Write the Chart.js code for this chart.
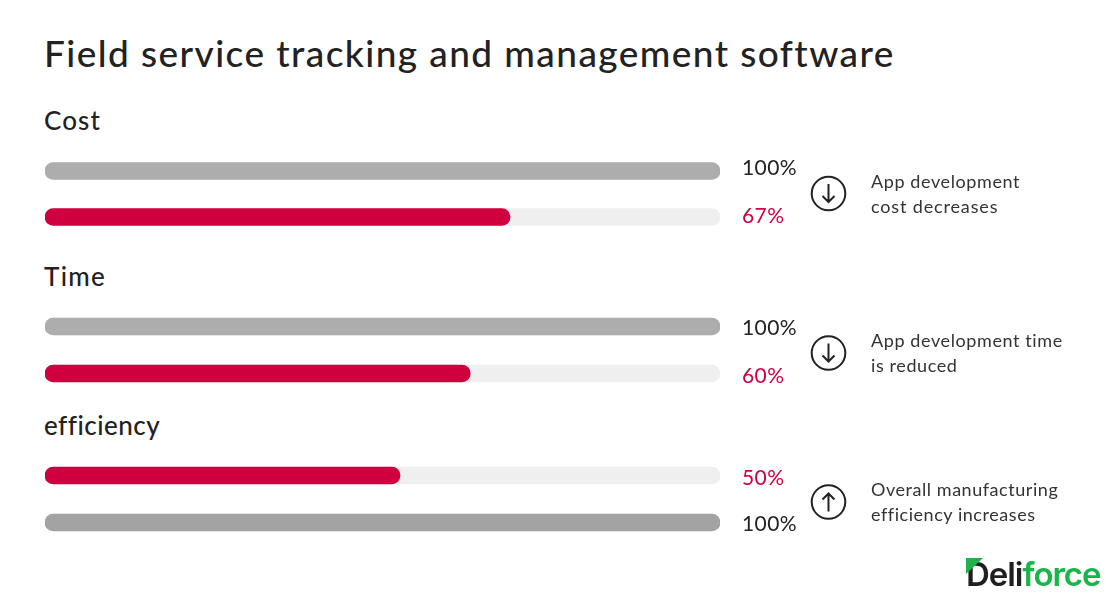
<!DOCTYPE html>
<html><head><meta charset="utf-8">
<style>
html,body{margin:0;padding:0;background:#fff;width:1118px;height:606px;overflow:hidden;font-family:Lato,sans-serif;color:#222}
.t{position:absolute;white-space:nowrap}
canvas{display:block}
.c{position:absolute;left:0;width:820px}
.h{font-size:26px;letter-spacing:1.1px;line-height:30px;left:44px;font-weight:500}
.n{font-size:18px;line-height:25px;left:871px;letter-spacing:.6px;color:#333}
</style>
<script src="https://cdn.jsdelivr.net/npm/chart.js@4"></script>
</head><body>
<div class="t" id="title" style="left:44px;top:30px;font-size:37px;line-height:46px;letter-spacing:1.43px;font-weight:500">Field service tracking and management software</div>
<div class="t h" style="top:105px">Cost</div>
<div class="t h" style="top:261px;letter-spacing:1.3px">Time</div>
<div class="t h" style="top:410px;letter-spacing:.5px">efficiency</div>

<div class="c" style="top:147.5px;height:92px"><canvas id="cost"></canvas></div>
<div class="c" style="top:303px;height:94px"><canvas id="time"></canvas></div>
<div class="c" style="top:452px;height:94px"><canvas id="eff"></canvas></div>

<svg style="position:absolute;left:0;top:0" width="1118" height="606" fill="none" stroke="#222" stroke-width="2">
  <g id="d1"><circle cx="828.5" cy="193.5" r="16.8"/><path d="M828.5 184v18M822.5 196l6 6 6-6"/></g>
  <g id="d2"><circle cx="828.5" cy="353" r="16.8"/><path d="M828.5 343.5v18M822.5 355.500l6 6 6-6"/></g>
  <g id="u1"><circle cx="828.5" cy="502" r="16.8"/><path d="M828.5 511.500v-18M822.500 499.500l6-6 6 6"/></g>
</svg>

<div class="t n" style="top:169px">App development<br><span style="letter-spacing:.85px">cost decreases</span></div>
<div class="t n" style="top:328px">App development time<br>is reduced</div>
<div class="t n" style="top:477px;letter-spacing:.55px">Overall manufacturing<br>efficiency increases</div>
<div class="t" style="left:966px;top:552px;font:600 33px/44px Inter,sans-serif;letter-spacing:-1.05px;color:#1f1f1f">Deli<span style="color:#18b548">force</span></div>
<svg style="position:absolute;left:0;top:0" width="1118" height="606">
  <path d="M966 558h17L966 574z" fill="#22b14c"/>
</svg>

<script>
// Bar lengths as drawn in the picture (share of the full track)
const costCategories = ['Before', 'With software'];
const costLengths = [100, 68.9];
const costLabels = ['100%', '67%'];
const timeCategories = ['Before', 'With software'];
const timeLengths = [100, 63];
const timeLabels = ['100%', '60%'];
const effCategories = ['With software', 'Before'];
const effLengths = [52.6, 100];
const effLabels = ['50%', '100%'];
const trackValues = [100, 100];

const RED = '#d0003f', TRACK = '#efefef';

const valueLabels = {
  id: 'valueLabels',
  afterDatasetsDraw(chart, args, opts) {
    const { ctx, chartArea } = chart;
    const meta = chart.getDatasetMeta(0);
    ctx.save();
    ctx.font = '21px Lato, sans-serif';
    ctx.letterSpacing = '0.4px';
    ctx.textBaseline = 'middle';
    ctx.textAlign = 'left';
    opts.labels.forEach((txt, i) => {
      ctx.fillStyle = opts.colors[i];
      ctx.fillText(txt, chartArea.right + 22, meta.data[i].y + opts.dy[i]);
    });
    ctx.restore();
  }
};

function group(id, categories, lengths, labels, colors, textColors, dy) {
  new Chart(document.getElementById(id), {
    type: 'bar',
    data: {
      labels: categories,
      datasets: [
        { data: lengths, backgroundColor: colors, order: 1 },
        { data: trackValues, backgroundColor: TRACK, order: 2 }
      ]
    },
    options: {
      indexAxis: 'y',
      responsive: true,
      maintainAspectRatio: false,
      animation: false,
      layout: { padding: { left: 45, right: 100, top: 0, bottom: 0 } },
      datasets: { bar: { grouped: false, barThickness: 17, borderRadius: 8.5, borderSkipped: false } },
      scales: {
        x: { display: false, min: 0, max: 100 },
        y: { display: false }
      },
      plugins: {
        legend: { display: false },
        tooltip: { enabled: false },
        valueLabels: { labels, colors: textColors, dy }
      }
    },
    plugins: [valueLabels]
  });
}

group('cost', costCategories, costLengths, costLabels, ['#adadad', RED], ['#222', RED], [-2.5, -0.5]);
group('time', timeCategories, timeLengths, timeLabels, ['#adadad', RED], ['#222', RED], [2, 3]);
group('eff', effCategories, effLengths, effLabels, [RED, '#a3a3a3'], [RED, '#222'], [3, 2]);
</script>
</body></html>
